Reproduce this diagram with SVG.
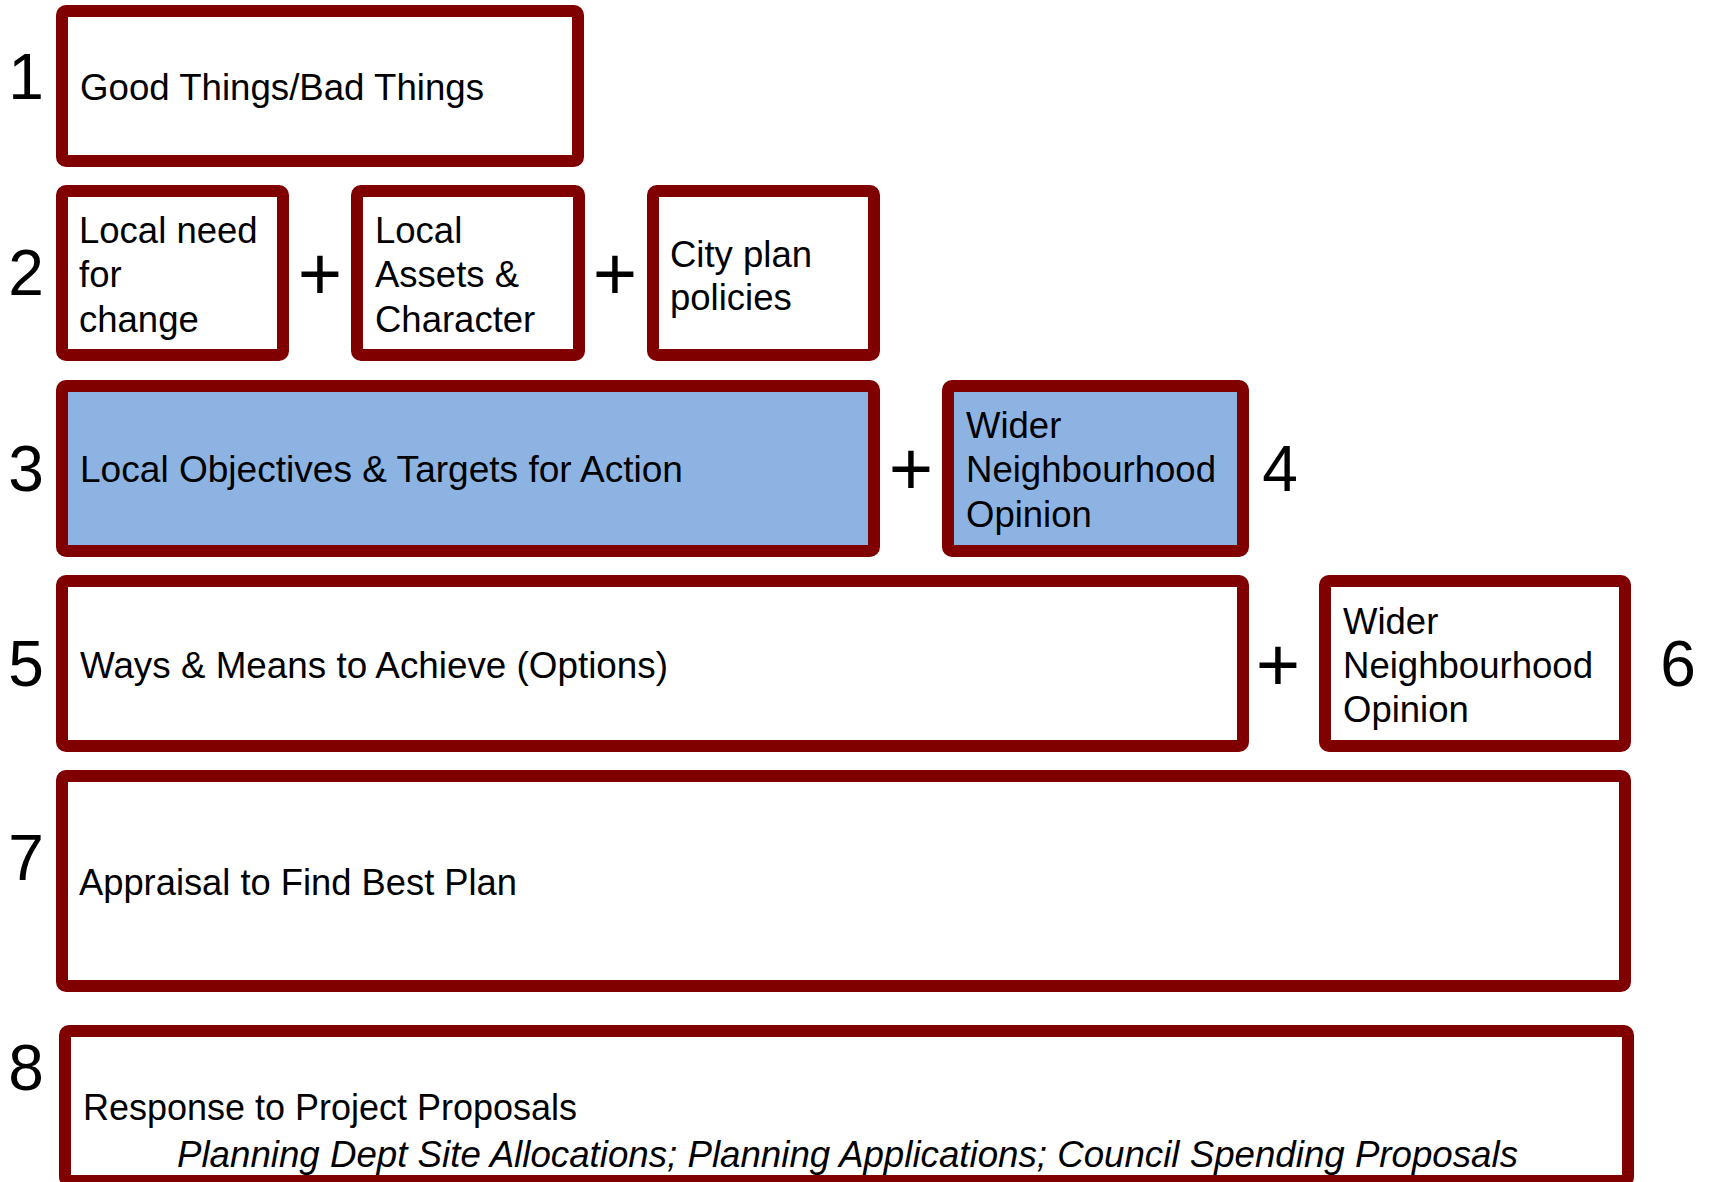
<svg xmlns="http://www.w3.org/2000/svg" width="1712" height="1182" viewBox="0 0 1712 1182">
  <style>
    .box { fill: #ffffff; stroke: #800000; stroke-width: 12; }
    .box.hl { fill: #8DB3E2; }
    .lbl { font-family: "Liberation Sans", Arial, sans-serif; font-size: 36.5px; fill: #000000; }
    .it { font-style: italic; }
    .num { font-family: "Liberation Sans", Arial, sans-serif; font-size: 64px; fill: #000000; text-anchor: middle; }
    .op { font-family: "Liberation Sans", Arial, sans-serif; font-size: 76px; fill: #000000; text-anchor: middle; }
  </style>
  <rect width="1712" height="1182" fill="#ffffff"/>

  <!-- step numbers -->
  <g id="step-numbers">
    <text class="num" x="26" y="99">1</text>
    <text class="num" x="26" y="295">2</text>
    <text class="num" x="26" y="491">3</text>
    <text class="num" x="1280" y="491">4</text>
    <text class="num" x="26" y="686">5</text>
    <text class="num" x="1678" y="686">6</text>
    <text class="num" x="26" y="880">7</text>
    <text class="num" x="26" y="1090">8</text>
  </g>

  <!-- plus signs joining boxes on a row -->
  <g id="connectors">
    <text class="op" x="320" y="300">+</text>
    <text class="op" x="615" y="300">+</text>
    <text class="op" x="911" y="495">+</text>
    <text class="op" x="1278" y="691">+</text>
  </g>

  <g id="good-bad-things">
    <rect class="box" x="62" y="11" width="516" height="150" rx="4"/>
    <text class="lbl" x="80" y="100" textLength="404" lengthAdjust="spacingAndGlyphs">Good Things/Bad Things</text>
  </g>

  <g id="local-need">
    <rect class="box" x="62" y="191" width="221" height="164" rx="4"/>
    <text class="lbl" x="79" y="243">Local need</text>
    <text class="lbl" x="79" y="287">for</text>
    <text class="lbl" x="79" y="332">change</text>
  </g>

  <g id="local-assets">
    <rect class="box" x="357" y="191" width="222" height="164" rx="4"/>
    <text class="lbl" x="375" y="243">Local</text>
    <text class="lbl" x="375" y="287">Assets &amp;</text>
    <text class="lbl" x="375" y="332">Character</text>
  </g>

  <g id="city-plan">
    <rect class="box" x="653" y="191" width="221" height="164" rx="4"/>
    <text class="lbl" x="670" y="267">City plan</text>
    <text class="lbl" x="670" y="310">policies</text>
  </g>

  <g id="local-objectives">
    <rect class="box hl" x="62" y="386" width="812" height="165" rx="4"/>
    <text class="lbl" x="80" y="482" textLength="603" lengthAdjust="spacingAndGlyphs">Local Objectives &amp; Targets for Action</text>
  </g>

  <g id="opinion-a">
    <rect class="box hl" x="948" y="386" width="295" height="165" rx="4"/>
    <text class="lbl" x="966" y="438">Wider</text>
    <text class="lbl" x="966" y="482" textLength="250" lengthAdjust="spacingAndGlyphs">Neighbourhood</text>
    <text class="lbl" x="966" y="527">Opinion</text>
  </g>

  <g id="ways-means">
    <rect class="box" x="62" y="581" width="1181" height="165" rx="4"/>
    <text class="lbl" x="80" y="678" textLength="588" lengthAdjust="spacingAndGlyphs">Ways &amp; Means to Achieve (Options)</text>
  </g>

  <g id="opinion-b">
    <rect class="box" x="1325" y="581" width="300" height="165" rx="4"/>
    <text class="lbl" x="1343" y="634">Wider</text>
    <text class="lbl" x="1343" y="678" textLength="250" lengthAdjust="spacingAndGlyphs">Neighbourhood</text>
    <text class="lbl" x="1343" y="722">Opinion</text>
  </g>

  <g id="appraisal">
    <rect class="box" x="62" y="776" width="1563" height="210" rx="4"/>
    <text class="lbl" x="79" y="895" textLength="438" lengthAdjust="spacingAndGlyphs">Appraisal to Find Best Plan</text>
  </g>

  <g id="response">
    <rect class="box" x="65" y="1031" width="1563" height="150" rx="4"/>
    <text class="lbl" x="83" y="1120" textLength="494" lengthAdjust="spacingAndGlyphs">Response to Project Proposals</text>
    <text class="lbl it" x="177" y="1167" textLength="1341" lengthAdjust="spacingAndGlyphs">Planning Dept Site Allocations; Planning Applications; Council Spending Proposals</text>
  </g>
</svg>
